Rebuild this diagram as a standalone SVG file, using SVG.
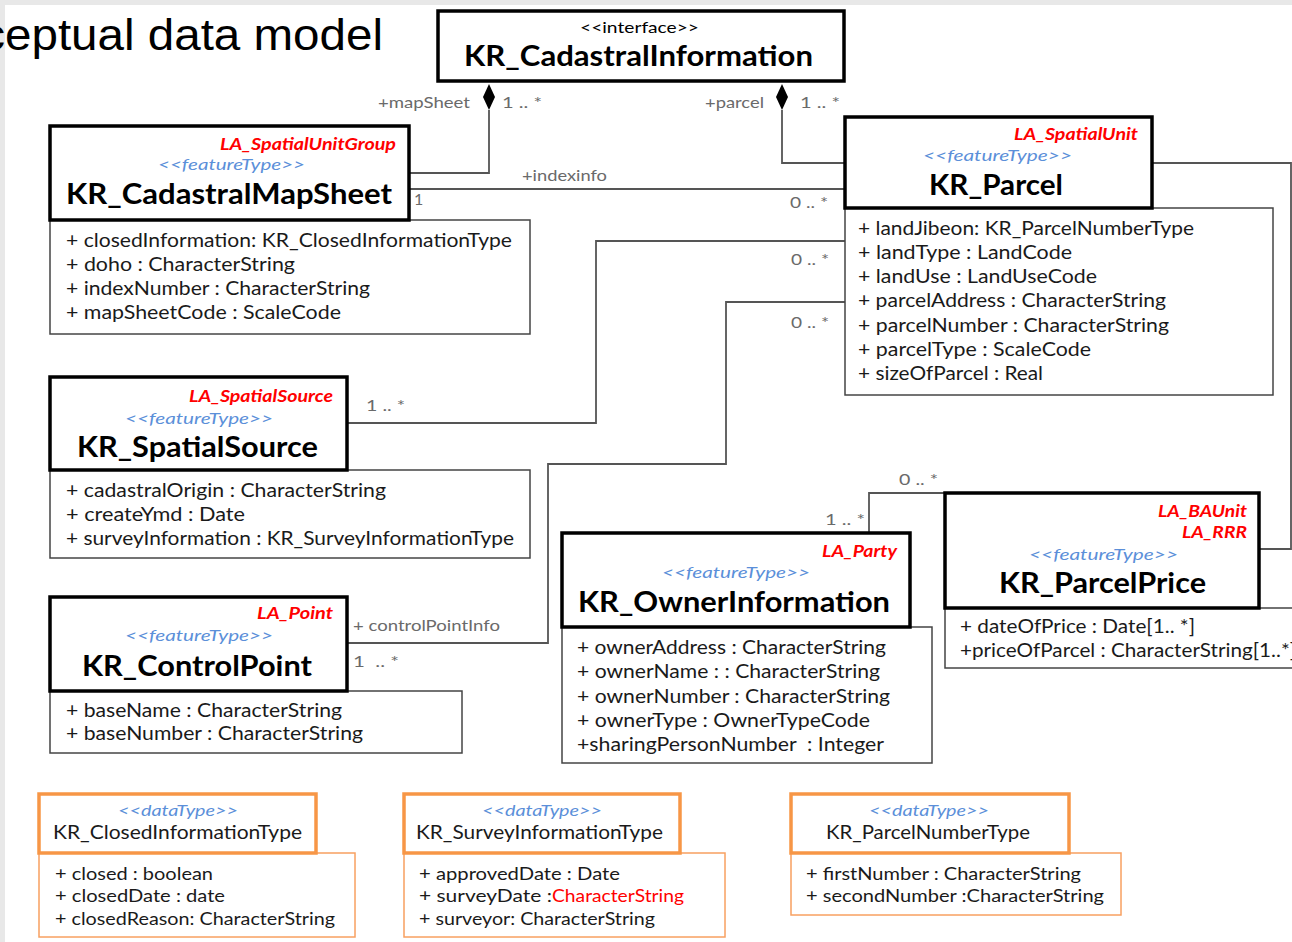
<svg xmlns="http://www.w3.org/2000/svg" width="1292" height="942" viewBox="0 0 1292 942">
<style>
.hdr{fill:#fff;stroke:#000;stroke-width:3.5}
.att{fill:#fff;stroke:#444;stroke-width:1.5}
.dhdr{fill:#fff;stroke:#f79646;stroke-width:3.5}
.datt{fill:#fff;stroke:#f8a060;stroke-width:1.5}
text{font-family:Lato,"Noto Sans","DejaVu Sans",sans-serif}
.name{font-size:29px;font-weight:bold;fill:#000}
.la{font-size:17px;font-weight:bold;font-style:italic;fill:#ff0000}
.ft{font-size:16px;font-style:italic;fill:#5b8fd9}
.at{font-size:19.5px;fill:#1a1a1a}
.dname{font-size:19px;fill:#1a1a1a}
.dat{font-size:17px;fill:#1a1a1a}
.lbl{font-size:16px;fill:#6a6a6a}
.conn{fill:none;stroke:#555;stroke-width:1.8}
.title{font-family:"Liberation Sans",Arial,sans-serif;font-size:45px;fill:#000}
</style>
<rect x="0" y="0" width="1292" height="942" fill="#e8e8e8"/>
<rect x="5" y="5" width="1287" height="937" fill="#fff"/>
<text class="title" x="-106" y="50" textLength="489" lengthAdjust="spacingAndGlyphs">Conceptual data model</text>

<g id="connectors">
  <polyline class="conn" points="489,110 489,173 409,173"/>
  <polygon points="489,84 495,97 489,110 483,97" fill="#000"/>
  <polyline class="conn" points="782,110 782,163 845,163"/>
  <polygon points="782,84 788,97 782,110 776,97" fill="#000"/>
  <polyline class="conn" points="409,189 845,189"/>
  <polyline class="conn" points="347,423 596,423 596,241 845,241"/>
  <polyline class="conn" points="347,643 548,643 548,464 726,464 726,302 845,302"/>
  <polyline class="conn" points="869,533 869,493 945,493"/>
  <polyline class="conn" points="1152,163 1291,163 1291,549 1259,549"/>
  <text class="lbl" x="378" y="108" textLength="92" lengthAdjust="spacingAndGlyphs">+mapSheet</text>
  <text class="lbl" x="502" y="108" textLength="40" lengthAdjust="spacingAndGlyphs">1 .. *</text>
  <text class="lbl" x="705" y="108" textLength="59" lengthAdjust="spacingAndGlyphs">+parcel</text>
  <text class="lbl" x="800" y="108" textLength="40" lengthAdjust="spacingAndGlyphs">1 .. *</text>
  <text class="lbl" x="522" y="181" textLength="85" lengthAdjust="spacingAndGlyphs">+indexinfo</text>
  <text class="lbl" x="414" y="205">1</text>
  <text class="lbl" x="790" y="208" textLength="38" lengthAdjust="spacingAndGlyphs">0 .. *</text>
  <text class="lbl" x="791" y="265" textLength="38" lengthAdjust="spacingAndGlyphs">0 .. *</text>
  <text class="lbl" x="791" y="328" textLength="38" lengthAdjust="spacingAndGlyphs">0 .. *</text>
  <text class="lbl" x="366" y="411" textLength="39" lengthAdjust="spacingAndGlyphs">1 .. *</text>
  <text class="lbl" x="353" y="631" textLength="147" lengthAdjust="spacingAndGlyphs">+ controlPointInfo</text>
  <text class="lbl" x="353" y="667" textLength="46" lengthAdjust="spacingAndGlyphs" xml:space="preserve">1  .. *</text>
  <text class="lbl" x="899" y="485" textLength="39" lengthAdjust="spacingAndGlyphs">0 .. *</text>
  <text class="lbl" x="825" y="525" textLength="40" lengthAdjust="spacingAndGlyphs">1 .. *</text>
</g>

<g id="KR_CadastralInformation">
  <rect class="hdr" x="438" y="11" width="406" height="70"/>
  <text x="580" y="33" font-size="15" fill="#000" textLength="119" lengthAdjust="spacingAndGlyphs">&lt;&lt;interface&gt;&gt;</text>
  <text class="name" x="464" y="66" textLength="349" lengthAdjust="spacingAndGlyphs">KR_CadastralInformation</text>
</g>

<g id="KR_CadastralMapSheet">
  <rect class="att" x="50" y="220" width="480" height="114"/>
  <rect class="hdr" x="50" y="126" width="359" height="94"/>
  <text class="la" x="220" y="150" textLength="176" lengthAdjust="spacingAndGlyphs">LA_SpatialUnitGroup</text>
  <text class="ft" x="158" y="170" textLength="147" lengthAdjust="spacingAndGlyphs">&lt;&lt;featureType&gt;&gt;</text>
  <text class="name" x="66" y="204" textLength="326" lengthAdjust="spacingAndGlyphs">KR_CadastralMapSheet</text>
  <text class="at" x="66" y="247" textLength="446" lengthAdjust="spacingAndGlyphs">+ closedInformation: KR_ClosedInformationType</text>
  <text class="at" x="66" y="271" textLength="229" lengthAdjust="spacingAndGlyphs">+ doho : CharacterString</text>
  <text class="at" x="66" y="295" textLength="304" lengthAdjust="spacingAndGlyphs">+ indexNumber : CharacterString</text>
  <text class="at" x="66" y="319" textLength="275" lengthAdjust="spacingAndGlyphs">+ mapSheetCode : ScaleCode</text>
</g>

<g id="KR_Parcel">
  <rect class="att" x="845" y="208" width="428" height="187"/>
  <rect class="hdr" x="845" y="117" width="307" height="91"/>
  <text class="la" x="1014" y="140" textLength="124" lengthAdjust="spacingAndGlyphs">LA_SpatialUnit</text>
  <text class="ft" x="923" y="161" textLength="149" lengthAdjust="spacingAndGlyphs">&lt;&lt;featureType&gt;&gt;</text>
  <text class="name" x="929" y="195" textLength="134" lengthAdjust="spacingAndGlyphs">KR_Parcel</text>
  <text class="at" x="858" y="235" textLength="336" lengthAdjust="spacingAndGlyphs">+ landJibeon: KR_ParcelNumberType</text>
  <text class="at" x="858" y="259" textLength="214" lengthAdjust="spacingAndGlyphs">+ landType : LandCode</text>
  <text class="at" x="858" y="283" textLength="239" lengthAdjust="spacingAndGlyphs">+ landUse : LandUseCode</text>
  <text class="at" x="858" y="307" textLength="308" lengthAdjust="spacingAndGlyphs">+ parcelAddress : CharacterString</text>
  <text class="at" x="858" y="332" textLength="311" lengthAdjust="spacingAndGlyphs">+ parcelNumber : CharacterString</text>
  <text class="at" x="858" y="356" textLength="233" lengthAdjust="spacingAndGlyphs">+ parcelType : ScaleCode</text>
  <text class="at" x="858" y="380" textLength="185" lengthAdjust="spacingAndGlyphs">+ sizeOfParcel : Real</text>
</g>

<g id="KR_SpatialSource">
  <rect class="att" x="50" y="470" width="480" height="88"/>
  <rect class="hdr" x="50" y="377" width="297" height="93"/>
  <text class="la" x="189" y="402" textLength="144" lengthAdjust="spacingAndGlyphs">LA_SpatialSource</text>
  <text class="ft" x="125" y="424" textLength="148" lengthAdjust="spacingAndGlyphs">&lt;&lt;featureType&gt;&gt;</text>
  <text class="name" x="77" y="457" textLength="241" lengthAdjust="spacingAndGlyphs">KR_SpatialSource</text>
  <text class="at" x="66" y="497" textLength="320" lengthAdjust="spacingAndGlyphs">+ cadastralOrigin : CharacterString</text>
  <text class="at" x="66" y="521" textLength="179" lengthAdjust="spacingAndGlyphs">+ createYmd : Date</text>
  <text class="at" x="66" y="545" textLength="448" lengthAdjust="spacingAndGlyphs">+ surveyInformation : KR_SurveyInformationType</text>
</g>

<g id="KR_ControlPoint">
  <rect class="att" x="50" y="691" width="412" height="62"/>
  <rect class="hdr" x="50" y="597" width="297" height="94"/>
  <text class="la" x="257" y="619" textLength="76" lengthAdjust="spacingAndGlyphs">LA_Point</text>
  <text class="ft" x="125" y="641" textLength="148" lengthAdjust="spacingAndGlyphs">&lt;&lt;featureType&gt;&gt;</text>
  <text class="name" x="82" y="676" textLength="230" lengthAdjust="spacingAndGlyphs">KR_ControlPoint</text>
  <text class="at" x="66" y="717" textLength="276" lengthAdjust="spacingAndGlyphs">+ baseName : CharacterString</text>
  <text class="at" x="66" y="740" textLength="297" lengthAdjust="spacingAndGlyphs">+ baseNumber : CharacterString</text>
</g>

<g id="KR_OwnerInformation">
  <rect class="att" x="562" y="627" width="370" height="136"/>
  <rect class="hdr" x="562" y="533" width="348" height="94"/>
  <text class="la" x="822" y="557" textLength="75" lengthAdjust="spacingAndGlyphs">LA_Party</text>
  <text class="ft" x="662" y="578" textLength="148" lengthAdjust="spacingAndGlyphs">&lt;&lt;featureType&gt;&gt;</text>
  <text class="name" x="578" y="612" textLength="312" lengthAdjust="spacingAndGlyphs">KR_OwnerInformation</text>
  <text class="at" x="577" y="654" textLength="309" lengthAdjust="spacingAndGlyphs">+ ownerAddress : CharacterString</text>
  <text class="at" x="577" y="678" textLength="303" lengthAdjust="spacingAndGlyphs">+ ownerName : : CharacterString</text>
  <text class="at" x="577" y="703" textLength="313" lengthAdjust="spacingAndGlyphs">+ ownerNumber : CharacterString</text>
  <text class="at" x="577" y="727" textLength="293" lengthAdjust="spacingAndGlyphs">+ ownerType : OwnerTypeCode</text>
  <text class="at" x="577" y="751" textLength="307" lengthAdjust="spacingAndGlyphs" xml:space="preserve">+sharingPersonNumber  : Integer</text>
</g>

<g id="KR_ParcelPrice">
  <rect class="att" x="945" y="608" width="360" height="60"/>
  <rect class="hdr" x="945" y="493" width="314" height="115"/>
  <text class="la" x="1158" y="517" textLength="89" lengthAdjust="spacingAndGlyphs">LA_BAUnit</text>
  <text class="la" x="1182" y="538" textLength="65" lengthAdjust="spacingAndGlyphs">LA_RRR</text>
  <text class="ft" x="1029" y="560" textLength="149" lengthAdjust="spacingAndGlyphs">&lt;&lt;featureType&gt;&gt;</text>
  <text class="name" x="999" y="593" textLength="207" lengthAdjust="spacingAndGlyphs">KR_ParcelPrice</text>
  <text class="at" x="960" y="633" textLength="235" lengthAdjust="spacingAndGlyphs">+ dateOfPrice : Date[1.. *]</text>
  <text class="at" x="960" y="657" textLength="336" lengthAdjust="spacingAndGlyphs">+priceOfParcel : CharacterString[1..*]</text>
</g>

<g id="KR_ClosedInformationType">
  <rect class="datt" x="39" y="853" width="316" height="84"/>
  <rect class="dhdr" x="39" y="794" width="277" height="59"/>
  <text class="ft" x="118" y="816" font-size="15" textLength="120" lengthAdjust="spacingAndGlyphs">&lt;&lt;dataType&gt;&gt;</text>
  <text class="dname" x="53" y="839" textLength="249" lengthAdjust="spacingAndGlyphs">KR_ClosedInformationType</text>
  <text class="dat" x="55" y="880" textLength="158" lengthAdjust="spacingAndGlyphs">+ closed : boolean</text>
  <text class="dat" x="55" y="902" textLength="170" lengthAdjust="spacingAndGlyphs">+ closedDate : date</text>
  <text class="dat" x="55" y="925" textLength="280" lengthAdjust="spacingAndGlyphs">+ closedReason: CharacterString</text>
</g>

<g id="KR_SurveyInformationType">
  <rect class="datt" x="404" y="853" width="321" height="84"/>
  <rect class="dhdr" x="404" y="794" width="276" height="59"/>
  <text class="ft" x="482" y="816" font-size="15" textLength="120" lengthAdjust="spacingAndGlyphs">&lt;&lt;dataType&gt;&gt;</text>
  <text class="dname" x="416" y="839" textLength="247" lengthAdjust="spacingAndGlyphs">KR_SurveyInformationType</text>
  <text class="dat" x="419" y="880" textLength="201" lengthAdjust="spacingAndGlyphs">+ approvedDate : Date</text>
  <text class="dat" x="419" y="902" textLength="133" lengthAdjust="spacingAndGlyphs">+ surveyDate : </text>
  <text class="dat" x="552" y="902" style="fill:#ff0000" textLength="132" lengthAdjust="spacingAndGlyphs">CharacterString</text>
  <text class="dat" x="419" y="925" textLength="236" lengthAdjust="spacingAndGlyphs">+ surveyor: CharacterString</text>
</g>

<g id="KR_ParcelNumberType">
  <rect class="datt" x="791" y="853" width="330" height="62"/>
  <rect class="dhdr" x="791" y="794" width="278" height="59"/>
  <text class="ft" x="869" y="816" font-size="15" textLength="120" lengthAdjust="spacingAndGlyphs">&lt;&lt;dataType&gt;&gt;</text>
  <text class="dname" x="826" y="839" textLength="204" lengthAdjust="spacingAndGlyphs">KR_ParcelNumberType</text>
  <text class="dat" x="806" y="880" textLength="275" lengthAdjust="spacingAndGlyphs">+ firstNumber : CharacterString</text>
  <text class="dat" x="806" y="902" textLength="298" lengthAdjust="spacingAndGlyphs">+ secondNumber :CharacterString</text>
</g>
</svg>
